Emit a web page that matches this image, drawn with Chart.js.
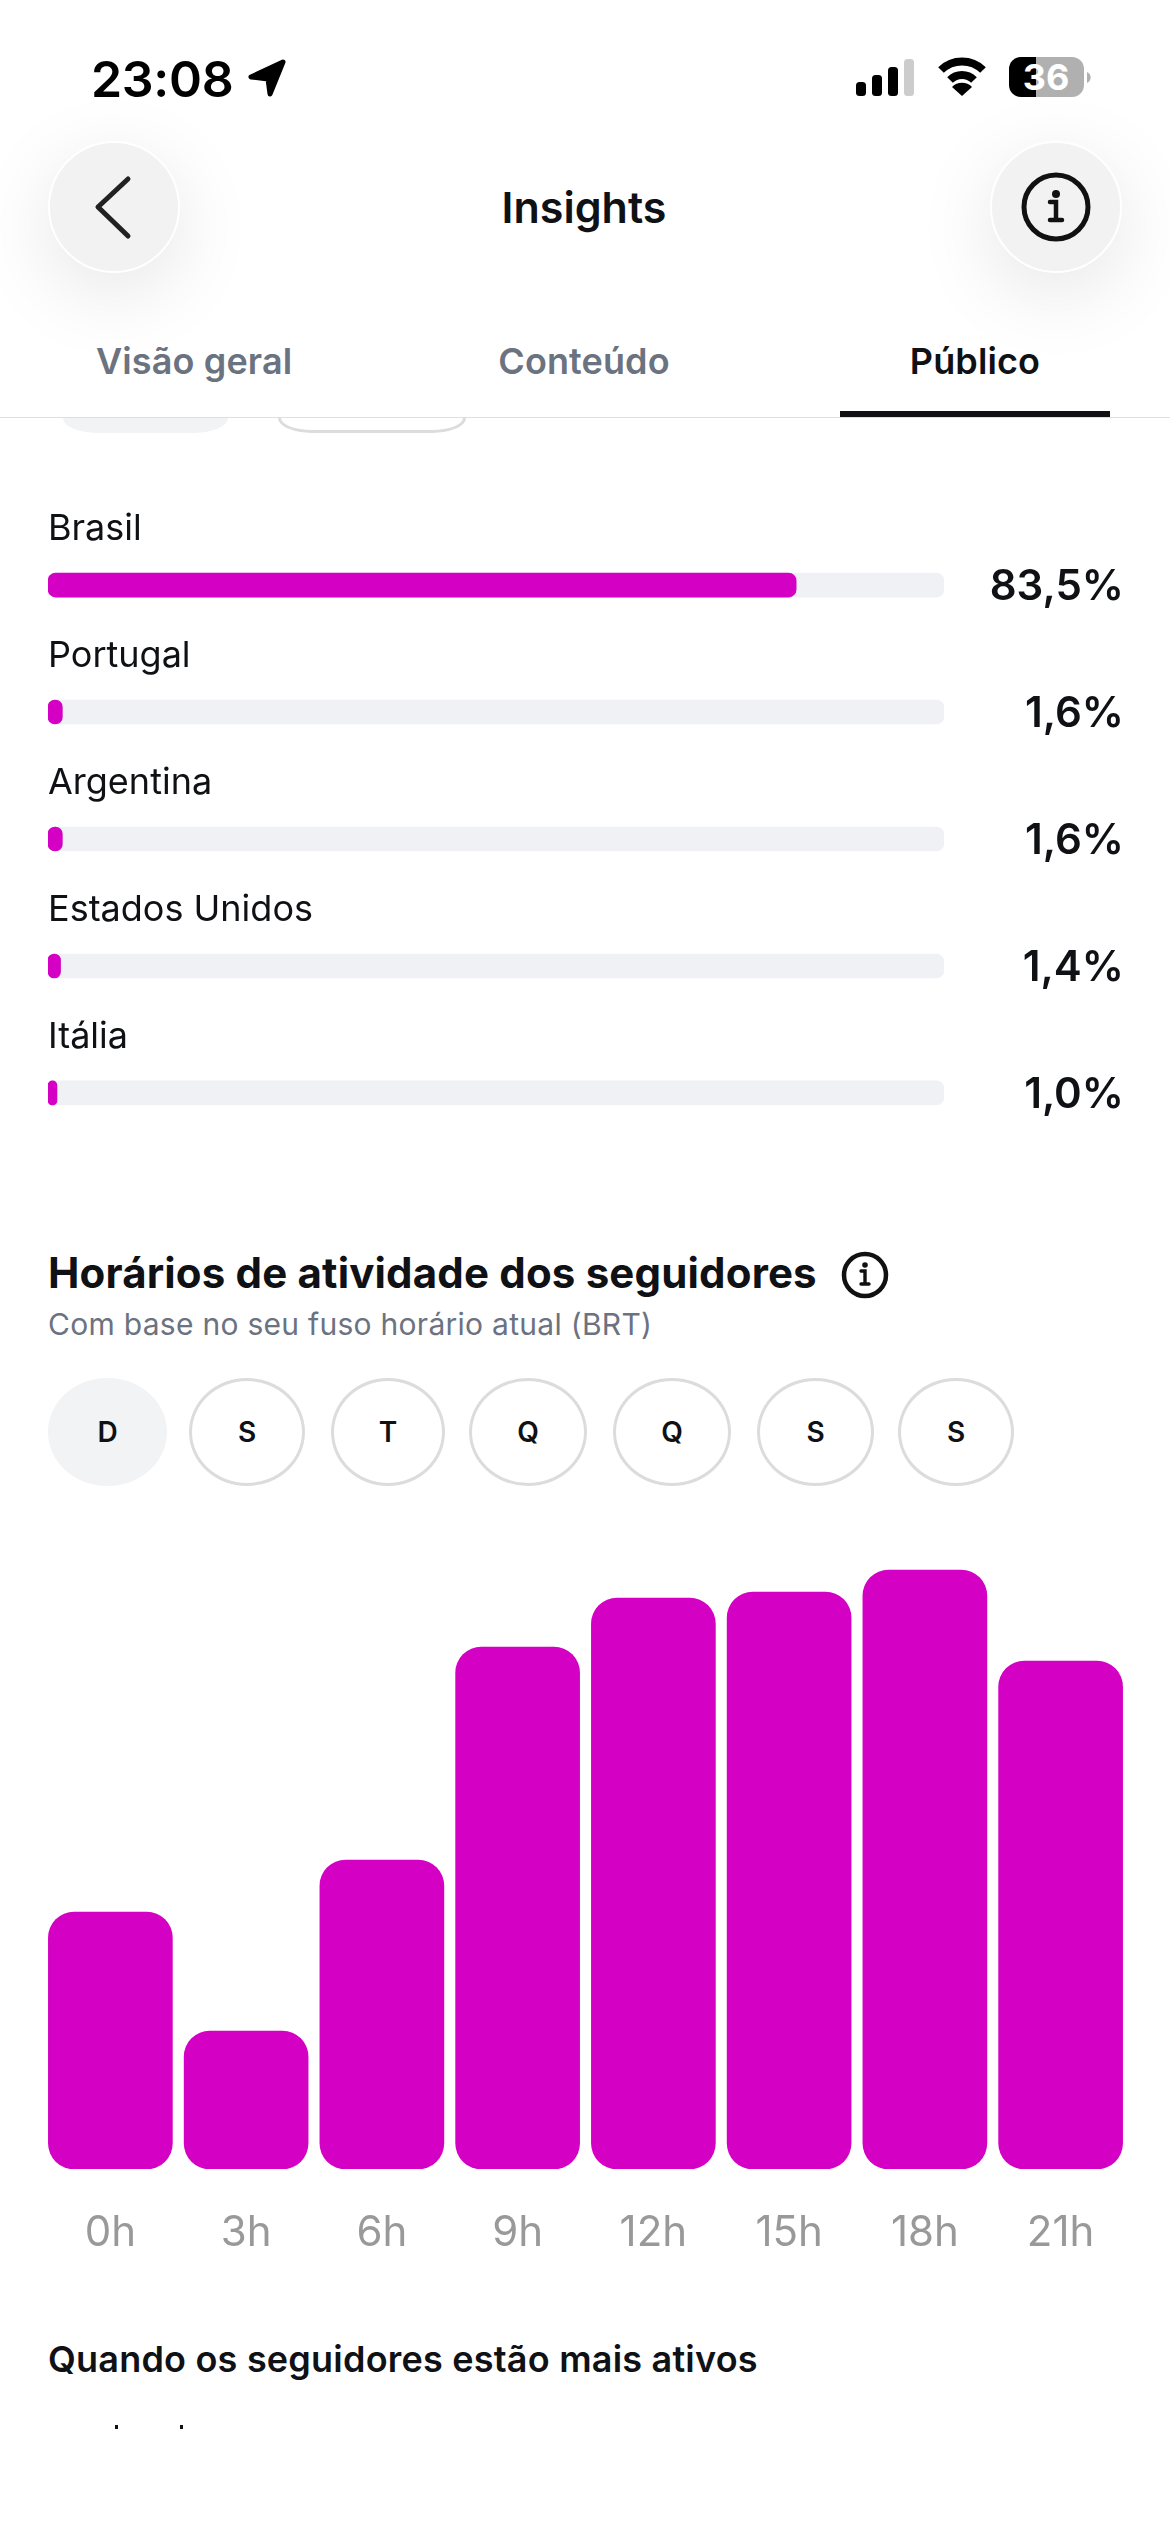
<!DOCTYPE html>
<html lang="pt-BR">
<head>
<meta charset="utf-8">
<title>Insights</title>
<script src="https://cdn.jsdelivr.net/npm/chart.js@4"></script>
<style>
html, body { margin: 0; padding: 0; background: #fff; }
body { width: 1170px; height: 2532px; position: relative; overflow: hidden; font-family: Inter, sans-serif; color: #0f1115; }
.t { position: absolute; white-space: nowrap; }
.round { position: absolute; top: 141px; width: 128px; height: 128px; border: 2px solid #fff; border-radius: 50%; background: #f2f2f2; box-shadow: 0 20px 80px rgba(0,0,0,.1); }
.tab { top: 343px; font-size: 36px; line-height: 36px; font-weight: 600; letter-spacing: .12px; color: #6b7280; }
.pill { position: absolute; top: 418px; height: 15px; border-radius: 0 0 34px 34px / 0 0 15px 15px; box-sizing: border-box; }
.day { position: absolute; top: 1378px; height: 108px; border-radius: 50%; border: 3px solid #dcdcdc; box-sizing: border-box; display: flex; align-items: center; justify-content: center; font-size: 28px; font-weight: 600; }
canvas { position: absolute; left: 0; }
svg { position: absolute; overflow: visible; }
.speck { position: absolute; top: 2425px; width: 3px; height: 4px; background: #111; }
</style>
</head>
<body>

<div class="t" style="left:91px;top:54px;font-size:50px;line-height:50px;font-weight:600;letter-spacing:-.3px;color:#000">23:08</div>
<svg style="left:0;top:0" width="1170" height="110">
  <path d="M283 62 L251 77 L268 79 L270 94 Z" fill="#000" stroke="#000" stroke-width="5" stroke-linejoin="round"/>
  <rect x="856" y="82" width="10" height="14" rx="3.5" fill="#000"/>
  <rect x="872" y="75" width="10" height="21" rx="3.5" fill="#000"/>
  <rect x="888" y="67" width="10" height="29" rx="3.5" fill="#000"/>
  <rect x="904" y="59" width="10" height="37" rx="3.5" fill="#ccc"/>
  <path d="M941 70 A30 30 0 0 1 983 70" fill="none" stroke="#000" stroke-width="8"/>
  <path d="M950 80 A17 17 0 0 1 974 80" fill="none" stroke="#000" stroke-width="8"/>
  <path d="M962 96 L952 87 A14 14 0 0 1 972 87 Z" fill="#000"/>
  <path d="M1036 57 H1021 A12 12 0 0 0 1009 69 V85 A12 12 0 0 0 1021 97 H1036 Z" fill="#000"/>
  <path d="M1036 57 H1072 A12 12 0 0 1 1084 69 V85 A12 12 0 0 1 1072 97 H1036 Z" fill="#b0b0b0"/>
  <path d="M1087 72 A6 6 0 0 1 1087 83 Z" fill="#b0b0b0"/>
</svg>
<div class="t" style="left:1009px;width:74px;top:59px;text-align:center;font-size:36px;line-height:36px;font-weight:700;color:#fff">36</div>

<div class="round" style="left:48px"></div>
<div class="round" style="left:990px"></div>
<svg style="left:0;top:0" width="1170" height="300">
  <path d="M128 179 L98 207 M98 207 L128 236" fill="none" stroke="#222" stroke-width="5" stroke-linecap="round" stroke-linejoin="round"/>
  <circle cx="1056" cy="207" r="32" fill="none" stroke="#111" stroke-width="5"/>
  <circle cx="1056" cy="194" r="4" fill="#111"/>
  <path d="M1050 202 H1056 V220 M1050 220 H1062" fill="none" stroke="#111" stroke-width="4.5" stroke-linecap="round"/>
</svg>
<div class="t" style="left:0;width:1168px;top:186px;text-align:center;font-size:43px;line-height:42px;font-weight:600;color:#0f1115">Insights</div>

<div class="t tab" style="left:96px">Visão geral</div>
<div class="t tab" style="left:0;width:1168px;text-align:center">Conteúdo</div>
<div class="t tab" style="left:0;width:1950px;text-align:center;color:#0f1115">Público</div>
<div style="position:absolute;left:0;top:417px;width:1170px;height:1px;background:#dddfe3"></div>
<div style="position:absolute;left:840px;top:411px;width:270px;height:6px;background:#0f1115"></div>
<div class="pill" style="left:63px;width:165px;background:#f2f3f5"></div>
<div class="pill" style="left:278px;width:188px;border:3px solid #dcdcdc;border-top:none"></div>

<canvas id="countryChart" width="1170" height="678" style="top:500px"></canvas>

<div class="t" style="left:48px;top:1252px;font-size:42px;line-height:42px;font-weight:700;letter-spacing:.17px">Horários de atividade dos seguidores</div>
<svg style="left:0;top:1240px" width="1170" height="80">
  <circle cx="865" cy="35" r="21" fill="none" stroke="#111" stroke-width="4.5"/>
  <circle cx="865" cy="25" r="2.8" fill="#111"/>
  <path d="M861 31 H865 V44 M861 44 H869" fill="none" stroke="#111" stroke-width="3.4" stroke-linecap="round"/>
</svg>
<div class="t" style="left:48px;top:1309px;font-size:30px;line-height:30px;letter-spacing:.28px;color:#6b7280">Com base no seu fuso horário atual (BRT)</div>

<div id="days"></div>

<canvas id="hourChart" width="1170" height="700" style="top:1569px"></canvas>

<div class="t" style="left:48px;top:2341px;font-size:36px;line-height:36px;font-weight:600;letter-spacing:.21px">Quando os seguidores estão mais ativos</div>
<div class="speck" style="left:115px"></div>
<div class="speck" style="left:180px"></div>

<script>
const countries = ['Brasil', 'Portugal', 'Argentina', 'Estados Unidos', 'Itália'];
const countryShares = [83.5, 1.6, 1.6, 1.4, 1.0];
const fullTrack = [100, 100, 100, 100, 100];

const hourLabels = ['0h', '3h', '6h', '9h', '12h', '15h', '18h', '21h'];
const hourActivity = [257, 138, 309, 522, 571, 577, 599, 508];

const dayLabels = ['D', 'S', 'T', 'Q', 'Q', 'S', 'S'];
const dayLeft = [48, 189, 331, 469, 613, 757, 898];
const dayWidth = [119, 116, 114, 118, 118, 117, 116];

const MAGENTA = '#d400c4';

// weekday pills
const daysBox = document.getElementById('days');
dayLabels.forEach(function(label, i) {
    const el = document.createElement('div');
    el.className = 'day';
    el.textContent = label;
    el.style.left = dayLeft[i] + 'px';
    el.style.width = dayWidth[i] + 'px';
    if (i === 0) {
        el.style.background = '#f2f3f5';
        el.style.borderColor = '#f2f3f5';
    }
    daysBox.appendChild(el);
});

// percentages at the right of each country bar
const shareLabels = {
    id: 'shareLabels',
    afterDatasetsDraw(chart) {
        const ctx = chart.ctx;
        const bars = chart.getDatasetMeta(0).data;
        ctx.save();
        ctx.font = '600 42px Inter';
        ctx.fillStyle = '#0f1115';
        ctx.textAlign = 'right';
        ctx.textBaseline = 'alphabetic';
        bars.forEach(function(bar, i) {
            const text = countryShares[i].toFixed(1).replace('.', ',') + '%';
            ctx.fillText(text, 1124, bar.y + 15);
        });
        ctx.restore();
    }
};

new Chart(document.getElementById('countryChart'), {
    type: 'bar',
    data: {
        labels: countries,
        datasets: [
            {
                data: countryShares,
                backgroundColor: MAGENTA,
                grouped: false,
                order: 1,
                barThickness: 24,
                borderRadius: 8,
                borderSkipped: false
            },
            {
                data: fullTrack,
                backgroundColor: '#f0f1f5',
                grouped: false,
                order: 2,
                barThickness: 24,
                borderRadius: 8,
                borderSkipped: false
            }
        ]
    },
    plugins: [shareLabels],
    options: {
        indexAxis: 'y',
        responsive: false,
        animation: false,
        layout: { padding: { left: 48, right: 226, top: 0, bottom: 0 } },
        plugins: { legend: { display: false }, tooltip: { enabled: false } },
        scales: {
            x: { display: false, min: 0, max: 100 },
            y: {
                afterFit(scale) { scale.width = 0; },
                border: { display: false },
                grid: { display: false },
                ticks: {
                    mirror: true,
                    padding: 0,
                    labelOffset: -56,
                    autoSkip: false,
                    color: '#0f1115',
                    font: { family: 'Inter', size: 36 }
                }
            }
        }
    }
});

new Chart(document.getElementById('hourChart'), {
    type: 'bar',
    data: {
        labels: hourLabels,
        datasets: [{
            data: hourActivity,
            backgroundColor: MAGENTA,
            barThickness: 124,
            borderRadius: 26,
            borderSkipped: false
        }]
    },
    options: {
        responsive: false,
        animation: false,
        layout: { padding: { left: 42.5, right: 41.5, top: 0, bottom: 0 } },
        plugins: { legend: { display: false }, tooltip: { enabled: false } },
        scales: {
            y: { display: false, min: 0, max: 600 },
            x: {
                afterFit(scale) { scale.height = 100; },
                border: { display: false },
                grid: { display: false },
                ticks: {
                    padding: 31,
                    maxRotation: 0,
                    autoSkip: false,
                    color: '#999999',
                    font: { family: 'Inter', size: 42 }
                }
            }
        }
    }
});
</script>
</body>
</html>
